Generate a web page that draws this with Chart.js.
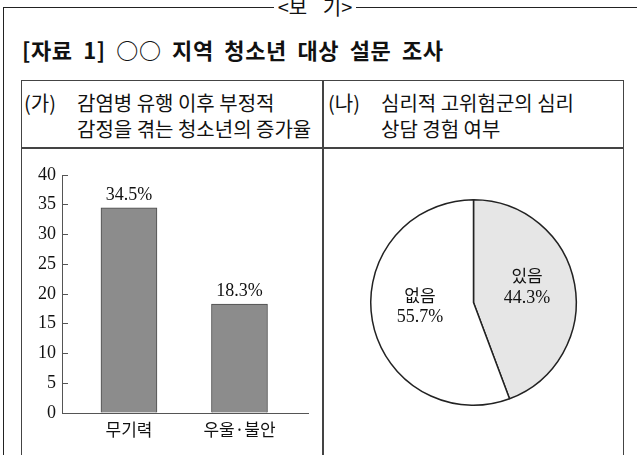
<!DOCTYPE html>
<html><head><meta charset="utf-8">
<script src="https://cdn.jsdelivr.net/npm/chart.js@4.4.1/dist/chart.umd.min.js"></script>
<style>
html,body{margin:0;padding:0;background:#fff;}
#page{position:relative;width:637px;height:455px;overflow:hidden;background:#fff;font-family:"Noto Sans CJK KR","Noto Sans",sans-serif;color:#111;}
.abs{position:absolute;}
#outer{left:3px;top:7px;width:700px;height:520px;border:1.5px solid #222;box-sizing:border-box;}
#bogi{left:274px;top:-4px;width:82px;height:22px;background:#fff;font-size:20px;line-height:22px;text-align:center;white-space:nowrap;word-spacing:11px;}
#title{left:22px;top:34px;font-size:22px;font-weight:700;line-height:30px;letter-spacing:0.6px;word-spacing:5px;white-space:nowrap;}
#table{left:21px;top:80px;width:603px;height:420px;border:1.5px solid #444;box-sizing:border-box;}
#vdiv{left:322px;top:80px;width:1.5px;height:400px;background:#444;}
#hdiv{left:21px;top:147px;width:603px;height:1.5px;background:#444;}
.hd{font-size:20px;line-height:26px;white-space:nowrap;display:flex;}
.hd .pre{width:53px;flex:none;}
canvas{position:absolute;}
</style></head>
<body>
<div id="page">
  <div id="outer" class="abs"></div>
  <div id="bogi" class="abs">&lt;보 기&gt;</div>
  <div id="title" class="abs">[자료 1] ○○ 지역 청소년 대상 설문 조사</div>
  <div id="table" class="abs"></div>
  <div id="vdiv" class="abs"></div>
  <div id="hdiv" class="abs"></div>
  <div class="abs hd" style="left:24px;top:90px;"><div class="pre">(가)</div><div>감염병 유행 이후 부정적<br>감정을 겪는 청소년의 증가율</div></div>
  <div class="abs hd" style="left:328px;top:90px;"><div class="pre">(나)</div><div>심리적 고위험군의 심리<br>상담 경험 여부</div></div>
  <canvas id="bar" width="299" height="305" style="left:23px;top:150px;"></canvas>
  <canvas id="pie" width="298" height="305" style="left:324px;top:150px;"></canvas>
</div>
<script>
const categories = ['무기력', '우울·불안'];
const barValues = [34.5, 18.3];
const yTicks = [0, 5, 10, 15, 20, 25, 30, 35, 40];
const pieLabels = ['있음', '없음'];
const pieValues = [44.3, 55.7];
const pieColors = ['#e6e6e6', '#ffffff'];

const SANS = '"Noto Sans CJK KR", "Noto Sans", sans-serif';
const SERIF = '"Liberation Serif", "DejaVu Serif", serif';

const barLabelPlugin = {
  id: 'barLabels',
  afterDatasetsDraw(chart) {
    const ctx = chart.ctx;
    const meta = chart.getDatasetMeta(0);
    ctx.save();
    ctx.font = '18px ' + SERIF;
    ctx.fillStyle = '#111';
    ctx.textAlign = 'center';
    ctx.textBaseline = 'alphabetic';
    meta.data.forEach((el, i) => {
      ctx.fillText(barValues[i].toFixed(1) + '%', el.x, el.y - 8);
    });
    ctx.restore();
  }
};

const pieLabelPlugin = {
  id: 'pieLabels',
  afterDatasetsDraw(chart) {
    const ctx = chart.ctx;
    const meta = chart.getDatasetMeta(0);
    ctx.save();
    ctx.fillStyle = '#111';
    ctx.textAlign = 'center';
    ctx.textBaseline = 'middle';
    meta.data.forEach((el, i) => {
      const p = el.getProps(['x', 'y', 'startAngle', 'endAngle', 'outerRadius'], true);
      const mid = (p.startAngle + p.endAngle) / 2;
      const R = p.outerRadius * 0.53;
      const cx = p.x + Math.cos(mid) * R;
      const cy = p.y + Math.sin(mid) * R - 6;
      ctx.font = '17px ' + SANS;
      ctx.fillText(pieLabels[i], cx, cy - 11);
      ctx.font = '18px ' + SERIF;
      ctx.fillText(pieValues[i].toFixed(1) + '%', cx, cy + 11);
    });
    ctx.restore();
  }
};

new Chart(document.getElementById('bar'), {
  type: 'bar',
  data: {
    datasets: [{
      data: categories.map((c, i) => ({ x: i, y: barValues[i] })),
      backgroundColor: '#8c8c8c',
      borderColor: '#4a4a4a',
      borderWidth: 1,
      barThickness: 56
    }]
  },
  options: {
    responsive: false,
    animation: false,
    devicePixelRatio: 1,
    layout: { padding: { left: 0, right: 14, top: 25, bottom: 0 } },
    plugins: { legend: { display: false }, tooltip: { enabled: false } },
    scales: {
      x: {
        type: 'linear', min: -0.606, max: 1.62, offset: false,
        afterBuildTicks: s => { s.ticks = categories.map((c, i) => ({ value: i })); },
        afterFit: s => { s.height = 42; },
        grid: { display: false, drawTicks: false },
        border: { display: true, color: '#555', width: 1 },
        ticks: { callback: v => categories[v], padding: 6, color: '#111', autoSkip: false, maxRotation: 0,
                 font: { family: SANS, size: 17 } }
      },
      y: {
        min: yTicks[0], max: yTicks[yTicks.length - 1],
        afterBuildTicks: s => { s.ticks = yTicks.map(v => ({ value: v })); },
        afterFit: s => { s.width = 39; },
        grid: { display: true, drawOnChartArea: false, drawTicks: true, tickLength: -6, color: '#555' },
        border: { display: true, color: '#555', width: 1 },
        ticks: { padding: 12, color: '#111', font: { family: SERIF, size: 18 } }
      }
    }
  },
  plugins: [barLabelPlugin]
});

new Chart(document.getElementById('pie'), {
  type: 'pie',
  data: {
    labels: pieLabels,
    datasets: [{ data: pieValues, backgroundColor: pieColors, borderColor: '#222', borderWidth: 1.5 }]
  },
  options: {
    responsive: false,
    animation: false,
    devicePixelRatio: 1,
    layout: { padding: { left: 46, right: 45, top: 49, bottom: 49 } },
    plugins: { legend: { display: false }, tooltip: { enabled: false } }
  },
  plugins: [pieLabelPlugin]
});
</script>
</body></html>
